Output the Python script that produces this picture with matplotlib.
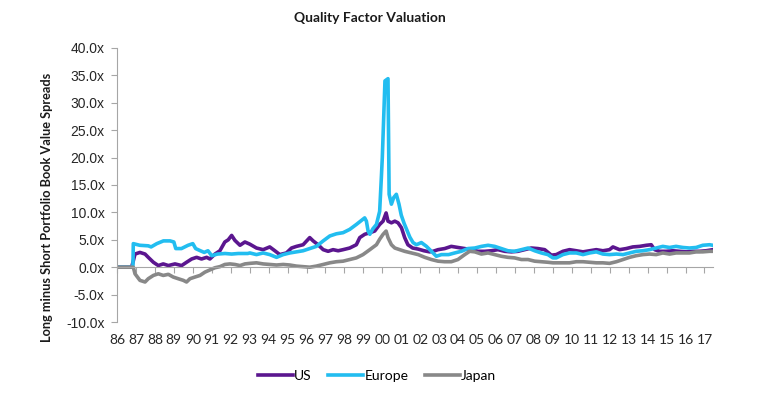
import matplotlib
matplotlib.use("Agg")
import matplotlib.pyplot as plt

plt.rcParams['font.family'] = ['Lato', 'DejaVu Sans']

us_years = [1986.0, 1986.77, 1986.85, 1986.95, 1987.21, 1987.48, 1987.65, 1987.92, 1988.18, 1988.44,
            1988.71, 1989.06, 1989.41, 1989.67, 1989.94, 1990.2, 1990.46, 1990.73, 1990.9, 1991.17,
            1991.43, 1991.69, 1991.87, 1992.05, 1992.22, 1992.49, 1992.75, 1993.01, 1993.36, 1993.71,
            1994.06, 1994.33, 1994.59, 1994.94, 1995.21, 1995.47, 1995.82, 1996.17, 1996.35, 1996.61,
            1996.88, 1997.14, 1997.4, 1997.67, 1997.93, 1998.28, 1998.63, 1998.81, 1999.07, 1999.34,
            1999.6, 1999.86, 2000.04, 2000.2, 2000.3, 2000.48, 2000.66, 2000.83, 2001.01, 2001.18,
            2001.35, 2001.6, 2001.9, 2002.2, 2002.5, 2002.68, 2002.94, 2003.29, 2003.64, 2003.99,
            2004.35, 2004.7, 2005.05, 2005.4, 2005.75, 2006.1, 2006.46, 2006.81, 2007.16, 2007.51,
            2007.86, 2008.21, 2008.57, 2008.92, 2009.18, 2009.53, 2009.88, 2010.24, 2010.59, 2010.94,
            2011.29, 2011.64, 2011.99, 2012.17, 2012.52, 2012.87, 2013.22, 2013.58, 2013.93, 2014.19,
            2014.37, 2014.63, 2014.98, 2015.33, 2015.68, 2016.04, 2016.39, 2016.74, 2017.09, 2017.44]
us_values = [0, 0, 1.0, 2.4, 2.7, 2.4, 1.8, 0.9, 0.3, 0.6,
             0.3, 0.6, 0.3, 0.9, 1.5, 1.8, 1.5, 1.8, 1.5, 2.4,
             3.0, 4.6, 5.0, 5.8, 4.9, 4.0, 4.6, 4.2, 3.5, 3.2,
             3.7, 3.0, 2.3, 2.6, 3.5, 3.8, 4.1, 5.4, 4.8, 4.1,
             3.2, 2.9, 3.2, 3.0, 3.2, 3.5, 4.1, 5.4, 6.0, 6.3,
             6.6, 7.8, 8.4, 9.9, 8.4, 8.1, 8.4, 8.1, 7.2, 5.4,
             4.1, 3.5, 3.3, 3.0, 2.8, 2.9, 3.2, 3.4, 3.8, 3.6,
             3.4, 3.2, 2.9, 2.9, 3.0, 3.2, 2.9, 2.8, 2.9, 3.2,
             3.5, 3.4, 3.2, 2.2, 2.3, 2.9, 3.2, 3.0, 2.8, 3.0,
             3.2, 3.0, 3.2, 3.7, 3.2, 3.4, 3.7, 3.8, 4.0, 4.1,
             3.2, 2.9, 2.9, 3.0, 2.9, 2.8, 2.9, 2.9, 3.0, 3.2]

eu_years = [1986.0, 1986.84, 1986.86, 1987.2, 1987.65, 1987.8, 1988.1, 1988.45, 1988.8, 1989.0,
            1989.1, 1989.4, 1989.75, 1990.0, 1990.15, 1990.4, 1990.6, 1990.8, 1991.0, 1991.3,
            1991.7, 1992.05, 1992.4, 1992.9, 1993.01, 1993.36, 1993.71, 1994.06, 1994.42, 1994.77,
            1995.12, 1995.47, 1995.82, 1996.17, 1996.52, 1996.88, 1997.23, 1997.58, 1997.93, 1998.28,
            1998.63, 1998.85, 1999.07, 1999.16, 1999.25, 1999.34, 1999.5, 1999.69, 1999.86, 1999.95,
            2000.0, 2000.14, 2000.3, 2000.36, 2000.48, 2000.6, 2000.74, 2000.88, 2001.0, 2001.15,
            2001.27, 2001.45, 2001.62, 2001.8, 2002.06, 2002.33, 2002.59, 2002.85, 2003.12, 2003.5,
            2003.82, 2004.17, 2004.52, 2004.88, 2005.23, 2005.58, 2005.93, 2006.28, 2006.63, 2006.98,
            2007.34, 2007.69, 2008.04, 2008.39, 2008.74, 2009.0, 2009.18, 2009.53, 2009.88, 2010.24,
            2010.59, 2010.94, 2011.29, 2011.64, 2011.99, 2012.35, 2012.7, 2013.05, 2013.4, 2013.75,
            2014.1, 2014.45, 2014.8, 2015.16, 2015.5, 2015.86, 2016.21, 2016.56, 2016.91, 2017.27,
            2017.44]
eu_values = [0, 0, 4.3, 4.0, 3.9, 3.7, 4.3, 4.8, 4.8, 4.6,
             3.4, 3.4, 4.0, 4.3, 3.4, 3.0, 2.7, 3.0, 2.1, 2.4,
             2.5, 2.4, 2.5, 2.5, 2.6, 2.3, 2.6, 2.3, 1.8, 2.3,
             2.6, 2.8, 3.0, 3.4, 3.8, 4.8, 5.7, 6.1, 6.3, 6.9,
             7.8, 8.4, 9.0, 8.4, 6.6, 6.0, 7.0, 7.8, 10.2, 16.4,
             20.0, 34.0, 34.4, 13.3, 11.5, 12.7, 13.3, 11.5, 9.5, 8.0,
             7.0, 5.5, 4.5, 4.1, 4.5, 3.8, 2.9, 2.0, 2.3, 2.3,
             2.6, 2.9, 3.4, 3.5, 3.8, 4.0, 3.8, 3.4, 3.0, 2.9,
             3.2, 3.5, 3.0, 2.6, 2.3, 1.7, 1.7, 2.3, 2.6, 2.6,
             2.3, 2.6, 2.8, 2.4, 2.3, 2.4, 2.3, 2.6, 2.9, 3.0,
             3.2, 3.5, 3.8, 3.6, 3.8, 3.6, 3.5, 3.6, 4.0, 4.1,
             4.0]

jp_years = [1986.0, 1986.86, 1986.95, 1987.21, 1987.48, 1987.65, 1987.92, 1988.18, 1988.44, 1988.71,
            1988.97, 1989.23, 1989.5, 1989.67, 1989.85, 1990.11, 1990.38, 1990.64, 1990.9, 1991.17,
            1991.43, 1991.69, 1991.96, 1992.22, 1992.49, 1992.75, 1993.01, 1993.36, 1993.71, 1994.06,
            1994.42, 1994.77, 1995.12, 1995.47, 1995.82, 1996.17, 1996.52, 1996.88, 1997.23, 1997.58,
            1997.93, 1998.28, 1998.63, 1998.98, 1999.34, 1999.69, 1999.86, 2000.04, 2000.2, 2000.3,
            2000.48, 2000.66, 2000.92, 2001.18, 2001.54, 2001.89, 2002.24, 2002.59, 2002.94, 2003.29,
            2003.64, 2003.99, 2004.35, 2004.61, 2004.88, 2005.23, 2005.58, 2005.93, 2006.28, 2006.63,
            2006.98, 2007.34, 2007.69, 2008.04, 2008.39, 2008.74, 2009.0, 2009.53, 2009.88, 2010.24,
            2010.59, 2010.94, 2011.29, 2011.64, 2011.99, 2012.35, 2012.7, 2013.05, 2013.4, 2013.75,
            2014.1, 2014.45, 2014.8, 2015.16, 2015.5, 2015.86, 2016.21, 2016.56, 2016.91, 2017.27,
            2017.44]
jp_values = [0, 0, -1.2, -2.4, -2.7, -2.1, -1.5, -1.2, -1.5, -1.3,
             -1.8, -2.1, -2.4, -2.7, -2.1, -1.8, -1.5, -0.9, -0.5, -0.1,
             0.1, 0.5, 0.6, 0.5, 0.3, 0.6, 0.7, 0.8, 0.6, 0.5,
             0.4, 0.5, 0.4, 0.2, 0.1, 0.0, 0.2, 0.5, 0.8, 1.0,
             1.1, 1.4, 1.7, 2.3, 3.2, 4.1, 5.1, 6.0, 6.6, 5.4,
             4.1, 3.5, 3.2, 2.9, 2.6, 2.3, 1.8, 1.4, 1.1, 1.0,
             1.0, 1.4, 2.3, 2.9, 2.8, 2.4, 2.6, 2.3, 2.0, 1.8,
             1.7, 1.4, 1.4, 1.1, 1.0, 0.9, 0.8, 0.8, 0.8, 1.0,
             1.0, 0.9, 0.8, 0.8, 0.7, 1.0, 1.4, 1.8, 2.1, 2.3,
             2.4, 2.3, 2.6, 2.4, 2.6, 2.6, 2.6, 2.8, 2.8, 2.9,
             2.9]

tick_years = list(range(1986, 2018))
tick_labels = [f"{y % 100:02d}" for y in tick_years]
y_ticks = [-10, -5, 0, 5, 10, 15, 20, 25, 30, 35, 40]

title = "Quality Factor Valuation"
ylabel = "Long minus Short Portfolio Book Value Spreads"

fig = plt.figure(figsize=(7.58, 4.01), dpi=100)
ax = fig.add_axes([117/758, 1-322/401, (713-117)/758, (322-48)/401])

c_us, c_eu, c_jp = '#5B168F', '#22BDF0', '#888888'
lw = 2.6
ax.plot(us_years, us_values, color=c_us, lw=lw, label='US', solid_joinstyle='round')
ax.plot(eu_years, eu_values, color=c_eu, lw=lw, label='Europe', solid_joinstyle='round')
ax.plot(jp_years, jp_values, color=c_jp, lw=lw, label='Japan', solid_joinstyle='round')

ax.set_xlim(1986, 2017.45)
ax.set_ylim(-10, 40)
ax.set_yticks(y_ticks)
ax.set_yticklabels([f"{v:.1f}x" for v in y_ticks], family=['Liberation Sans', 'DejaVu Sans'])

axis_col = '#A6A6A6'
for s in ['top', 'right']:
    ax.spines[s].set_visible(False)
ax.spines['left'].set_color(axis_col)
ax.spines['bottom'].set_color(axis_col)
ax.spines['bottom'].set_position(('data', 0))
ax.set_xticks(tick_years)
ax.tick_params(axis='x', which='both', labelbottom=False, length=4, color=axis_col, direction='out')
ax.tick_params(axis='y', length=4, color=axis_col, labelsize=10, labelcolor='#262626', pad=5)

sec = ax.secondary_xaxis('bottom')
sec.set_xticks(tick_years)
sec.set_xticklabels(tick_labels)
sec.tick_params(length=0, labelsize=10, labelcolor='#262626', pad=9)
sec.spines['bottom'].set_visible(False)

fig.text(370/758, 1-18/401, title, ha='center', va='center', fontsize=10, fontweight='bold', color='#1a1a1a')
fig.text(47/758, 1-207/401, ylabel, ha='center', va='center', rotation=90, fontsize=9.2, fontweight='bold', color='#1a1a1a')

fig.legend(loc='center', bbox_to_anchor=(377/758, 1-376/401), ncol=3, frameon=False,
           fontsize=10, handlelength=2.5, handletextpad=0.1, columnspacing=1.2)

fig.savefig('out.png', dpi=100)
